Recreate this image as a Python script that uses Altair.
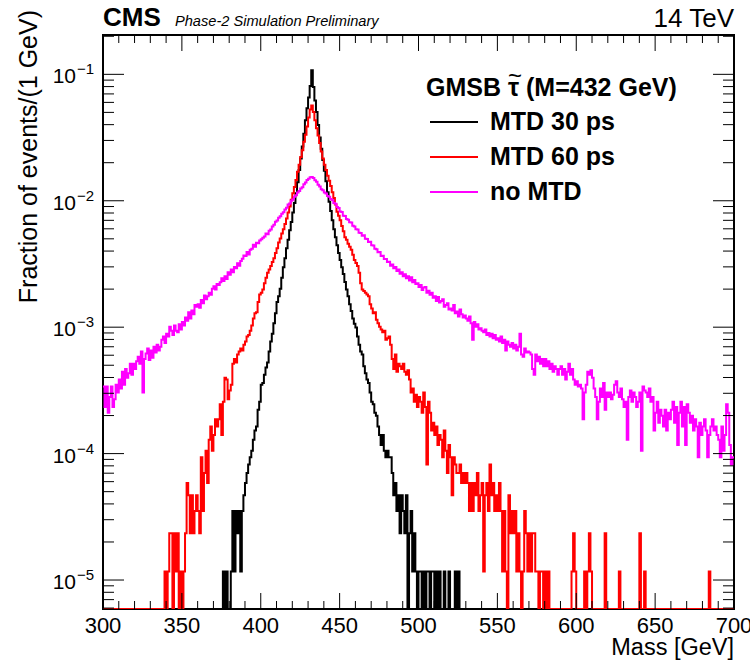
import altair as alt
import pandas as pd

# ---------------- data ----------------
N_EVENTS = 85500          # normalisation: fraction = count / N_EVENTS
FIRST_EDGE, LAST_EDGE = 300, 700
Y_MIN, Y_MAX = 5.9e-6, 0.2047

# events per 1 GeV bin, bins [300,301) ... [699,700)
black_counts = (
    [0] * 75
    + [0, 1, 0, 1, 0, 0, 1, 3, 1, 3, 2, 3, 1, 3]
    + [4, 5, 6, 7, 8, 9, 11, 13, 14, 19, 22]
    + [30, 31, 36, 41, 45, 55, 66, 76, 92, 110]
    + [135, 150, 172, 210, 255, 300, 360, 420, 500, 580]
    + [690, 820, 980, 1200, 1500, 1850, 2300, 2900, 3700, 4600]
    + [5600, 6900, 9200, 6800, 5300, 4300, 3400, 2700, 2200, 1800]
    + [1480, 1220, 1000, 840, 710, 600, 510, 440, 380, 330]
    + [290, 255, 225, 195, 170, 150, 130, 115, 100, 91]
    + [85, 72, 62, 55, 52, 42, 37, 33, 31, 26]
    + [22, 21, 18, 17, 14, 12, 10, 12, 9, 8]
    + [9, 8, 8, 6, 4, 5, 3, 4, 2, 4]
    + [3, 2, 4, 0, 2, 3, 1, 2, 1, 0]
    + [1, 1, 0, 1, 0, 1, 1, 0, 1, 1]
    + [0, 1, 0, 1, 0, 0, 1, 0, 0, 1]
    + [0, 0, 0, 1, 0, 1, 0, 0, 0, 0]
    + [0] * 170
)

red_counts = (
    [0] * 39
    + [1, 0, 1, 2, 2, 0, 2, 1, 2, 0, 1]
    + [0, 1, 2, 5, 4, 2, 4, 2, 3, 4]
    + [3, 2, 8, 3, 6, 9, 5, 11, 14, 9]
    + [12, 16, 14, 16, 21, 12, 22, 34, 33, 23]
    + [27, 30, 44, 48, 45, 52, 55, 58, 56, 62]
    + [66, 72, 74, 80, 88, 100, 110, 112, 135, 155]
    + [160, 170, 190, 210, 230, 245, 260, 280, 300, 330]
    + [360, 400, 430, 470, 510, 560, 620, 690, 770, 870]
    + [980, 1100, 1250, 1450, 1650, 1900, 2150, 2500, 2850, 3300]
    + [3900, 4500, 4850, 4300, 3700, 3200, 2800, 2450, 2100, 1850]
    + [1650, 1500, 1350, 1230, 1120, 1000, 900, 800, 700, 650]
    + [600, 540, 490, 440, 420, 390, 370, 350, 320, 290]
    + [275, 260, 230, 190, 170, 165, 160, 155, 150, 130]
    + [120, 110, 112, 98, 92, 86, 82, 78, 80, 68]
    + [70, 72, 62, 48, 40, 52, 38, 44, 42, 40]
    + [44, 38, 36, 39, 33, 26, 28, 22, 25, 20]
    + [24, 22, 18, 26, 20, 7, 22, 18, 13, 15]
    + [12, 14, 10, 12, 11, 8, 13, 9, 6, 10]
    + [8, 4, 8, 7, 6, 6, 7, 5, 6, 5]
    + [6, 5, 3, 5, 3, 5, 4, 6, 3, 4]
    + [5, 1, 4, 5, 3, 7, 4, 5, 3, 4]
    + [3, 5, 3, 1, 3, 1, 0, 4, 2, 3]
    + [2, 3, 1, 2, 1, 0, 1, 3, 2, 1]
    + [2, 1, 2, 2, 1, 1, 0, 1, 1, 0]
    + [1, 0, 1, 0, 0, 0, 0, 0, 0, 0]
    + [0, 0, 0, 0, 0, 0, 0, 1, 2, 1]
    + [0, 0, 0, 0, 0, 1, 0, 1, 2, 1]
    + [0, 0, 0, 0, 0, 0, 0, 0, 2, 0]
    + [0, 0, 0, 0, 0, 0, 0, 1, 0, 0]
    + [0] * 10
    + [2, 0, 0, 1, 0, 0, 0, 0, 0, 0]
    + [0] * 30
    + [0, 0, 0, 0, 1, 0, 0, 0, 0, 0]
    + [0] * 10
)

magenta_counts = (
    [29, 20, 29, 18, 24, 29, 20, 23, 30, 26]
    + [33, 28, 38, 30, 40, 34, 37, 44, 36, 44]
    + [40, 46, 50, 44, 55, 26, 48, 53, 58, 47]
    + [56, 49, 60, 54, 62, 56, 60, 68, 72, 64]
    + [76, 72, 86, 80, 74, 88, 80, 78, 90, 82]
    + [94, 88, 102, 96, 112, 100, 116, 108, 128, 124]
    + [130, 122, 140, 132, 152, 142, 150, 160, 154, 172]
    + [180, 170, 188, 184, 194, 208, 198, 216, 206, 232]
    + [222, 244, 232, 256, 250, 274, 262, 286, 298, 316]
    + [312, 336, 322, 350, 356, 384, 370, 398, 394, 414]
    + [424, 436, 446, 470, 464, 496, 506, 536, 552, 584]
    + [596, 628, 644, 676, 694, 730, 752, 798, 812, 856]
    + [874, 918, 944, 996, 1022, 1068, 1092, 1156, 1192, 1248]
    + [1276, 1314, 1320, 1296, 1244, 1208, 1142, 1108, 1052, 1036]
    + [994, 978, 932, 918, 884, 866, 822, 808, 762, 748]
    + [704, 696, 652, 648, 612, 606, 578, 576, 542, 536]
    + [508, 506, 478, 476, 452, 456, 428, 426, 404, 406]
    + [380, 378, 356, 354, 334, 336, 312, 314, 296, 296]
    + [280, 282, 262, 268, 250, 256, 238, 244, 226, 232]
    + [216, 224, 208, 216, 200, 212, 194, 202, 188, 190]
    + [178, 184, 168, 176, 178, 160, 166, 154, 160, 146]
    + [150, 138, 148, 134, 138, 142, 124, 128, 132, 118]
    + [120, 116, 128, 110, 114, 104, 118, 108, 102, 106]
    + [100, 96, 104, 92, 68, 94, 86, 90, 82, 84]
    + [80, 78, 82, 74, 77, 72, 76, 70, 74, 68]
    + [70, 66, 72, 64, 68, 56, 66, 62, 60, 64]
    + [58, 62, 56, 60, 76, 52, 50, 58, 54, 55]
    + [54, 52, 40, 36, 52, 46, 50, 44, 48, 42]
    + [48, 42, 46, 40, 44, 38, 42, 40, 36, 40]
    + [42, 36, 40, 33, 38, 44, 36, 40, 33, 30]
    + [32, 29, 30, 28, 16, 26, 30, 38, 36, 39]
    + [34, 28, 24, 16, 22, 28, 24, 31, 19, 26]
    + [24, 26, 23, 25, 30, 32, 26, 24, 28, 23]
    + [20, 22, 11, 24, 27, 22, 26, 24, 20, 22]
    + [26, 9, 29, 27, 26, 24, 28, 22, 24, 13]
    + [18, 22, 15, 19, 17, 14, 19, 13, 18, 16]
    + [19, 22, 15, 20, 10, 18, 22, 14, 20, 10]
    + [21, 18, 15, 17, 13, 16, 14, 8, 15, 12]
    + [14, 16, 13, 8, 12, 14, 16, 13, 14, 12]
    + [11, 8, 14, 9, 12, 21, 18, 10, 7, 8]
)

series_names = ["MTD 30 ps", "MTD 60 ps", "no MTD"]
series_colors = ["#000000", "#ff0000", "#ff00ff"]

x_major = [300, 350, 400, 450, 500, 550, 600, 650, 700]
x_minor = [v for v in range(300, 701, 10) if v % 50 != 0]
y_major = [1e-5, 1e-4, 1e-3, 1e-2, 1e-1]
y_exp = ["\u22125", "\u22124", "\u22123", "\u22122", "\u22121"]
y_minor = [k * 10.0 ** d for d in range(-6, 0) for k in range(2, 10)
           if Y_MIN <= k * 10.0 ** d <= Y_MAX]

# ---------------- layout ----------------
W, H = 631, 574
FONT = "Liberation Sans"

xs = alt.Scale(domain=[FIRST_EDGE, LAST_EDGE], nice=False, zero=False)
ys = alt.Scale(type="log", domain=[Y_MIN, Y_MAX], nice=False)


def hist_frame(counts, name):
    rows = []
    for i, c in enumerate(counts):
        frac = c / N_EVENTS if c > 0 else Y_MIN
        rows.append({"mass": FIRST_EDGE + i, "frac": frac, "series": name})
    rows.append({"mass": LAST_EDGE, "frac": rows[-1]["frac"], "series": name})
    return pd.DataFrame(rows)


layers = []
for counts, name, col in zip([black_counts, red_counts, magenta_counts],
                             series_names, series_colors):
    layers.append(
        alt.Chart(hist_frame(counts, name))
        .mark_line(interpolate="step-after", color=col, strokeWidth=2, clip=True)
        .encode(x=alt.X("mass:Q", scale=xs, axis=None),
                y=alt.Y("frac:Q", scale=ys, axis=None))
    )

# tick marks (inward, ROOT style)
def xticks(vals, length):
    d = pd.DataFrame({"v": vals})
    b = alt.Chart(d).mark_rule(color="black", strokeWidth=1).encode(
        x=alt.X("v:Q", scale=xs, axis=None), y=alt.value(H), y2=alt.value(H - length))
    t = alt.Chart(d).mark_rule(color="black", strokeWidth=1).encode(
        x=alt.X("v:Q", scale=xs, axis=None), y=alt.value(0), y2=alt.value(length))
    return [b, t]


def yticks(vals, length):
    d = pd.DataFrame({"v": vals})
    l = alt.Chart(d).mark_rule(color="black", strokeWidth=1).encode(
        y=alt.Y("v:Q", scale=ys, axis=None), x=alt.value(0), x2=alt.value(length))
    r = alt.Chart(d).mark_rule(color="black", strokeWidth=1).encode(
        y=alt.Y("v:Q", scale=ys, axis=None), x=alt.value(W), x2=alt.value(W - length))
    return [l, r]


layers += xticks(x_major, 16) + xticks(x_minor, 8)
layers += yticks(y_major, 21) + yticks(y_minor, 11)

# x tick labels
xl = pd.DataFrame({"v": x_major, "lab": [str(v) for v in x_major]})
layers.append(
    alt.Chart(xl).mark_text(font=FONT, fontSize=22, align="center", baseline="alphabetic")
    .encode(x=alt.X("v:Q", scale=xs, axis=None), y=alt.value(H + 24), text="lab:N")
)
# y tick labels 10^n
yl = pd.DataFrame({"v": y_major, "e": y_exp, "base": ["10"] * len(y_major)})
layers.append(
    alt.Chart(yl).mark_text(font=FONT, fontSize=21, align="right", baseline="alphabetic", dy=9)
    .encode(y=alt.Y("v:Q", scale=ys, axis=None), x=alt.value(-27), text="base:N")
)
layers.append(
    alt.Chart(yl).mark_text(font=FONT, fontSize=15, align="left", baseline="alphabetic", dy=0)
    .encode(y=alt.Y("v:Q", scale=ys, axis=None), x=alt.value(-26), text="e:N")
)


def label(txt, x, y, size, align="left", weight="normal", style="normal", angle=0, color="black"):
    d = pd.DataFrame({"t": [txt]})
    kw = dict(font=FONT, fontSize=size, align=align, baseline="alphabetic",
              fontWeight=weight, fontStyle=style, color=color)
    if angle:
        kw["angle"] = angle
    return alt.Chart(d).mark_text(**kw).encode(x=alt.value(x), y=alt.value(y), text="t:N")


layers.append(label("Mass [GeV]", W, H + 46, 23.5, align="right"))
layers.append(label("Fraction of events/(1 GeV)", -66, -25, 25, align="right", angle=270))
layers.append(label("CMS", 0, -9, 26, weight="bold"))
layers.append(label("Phase-2 Simulation Preliminary", 72, -9, 14.6, style="italic"))
layers.append(label("14 TeV", W, -8, 26, align="right"))

# legend
layers.append(label("GMSB \u03c4 (M=432 GeV)", 323, 61, 25, weight="bold"))
layers.append(label("~", 412, 49, 24, align="center"))
leg_y = [87, 122, 157]
for yy, name, col in zip(leg_y, series_names, series_colors):
    d = pd.DataFrame({"t": [name]})
    layers.append(
        alt.Chart(d).mark_rule(color=col, strokeWidth=2)
        .encode(x=alt.value(327), x2=alt.value(375), y=alt.value(yy))
    )
    layers.append(label(name, 387, yy + 8, 25, weight="bold"))

chart = (
    alt.layer(*layers)
    .properties(width=W, height=H,
                padding={"left": 103, "top": 35, "right": 16, "bottom": 51},
                autosize=alt.AutoSizeParams(type="none"))
    .configure_view(stroke="black", strokeWidth=2)
)

chart.save("out.html", embed_options={"renderer": "svg", "actions": False})
